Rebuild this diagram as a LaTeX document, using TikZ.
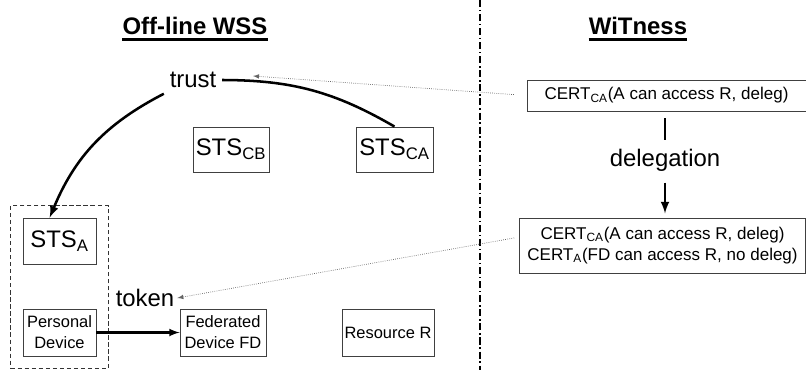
\documentclass[tikz,border=0pt]{standalone}
\usepackage{fontspec}
\setmainfont{Liberation Sans}
\usetikzlibrary{arrows,positioning,fit}

\tikzset{
  big/.style={font=\fontsize{17}{20}\selectfont},
  small/.style={font=\fontsize{11.7}{15}\selectfont},
  certfont/.style={font=\fontsize{12.1}{15}\selectfont},
  title/.style={font=\fontsize{17}{20}\selectfont\bfseries, inner sep=0pt},
  box/.style={draw=black!75, line width=0.6pt, inner sep=1pt, align=center},
  group/.style={draw=black!80, line width=0.6pt, dash pattern=on 3pt off 2pt, inner sep=8.5pt},
  flow/.style={-latex, line width=1.8pt},
  hint/.style={-latex, densely dotted, black!60, line width=0.5pt},
}

\begin{document}
\begin{tikzpicture}[x=0.025cm, y=-0.025cm]
\useasboundingbox (0,0) rectangle (806,370);

\node[title] (wss) at (195,26) {Off-line WSS};
\node[title] (wit) at (638,26) {WiTness};
\draw[line width=1.7pt] ([yshift=-3.5pt]wss.base west) -- ([yshift=-3.5pt]wss.base east);
\draw[line width=1.7pt] ([yshift=-3.5pt]wit.base west) -- ([yshift=-3.5pt]wit.base east);
\draw[line width=0.9pt, dash pattern=on 5pt off 2pt on 1pt off 2pt] (480,0) -- (480,370);

\node[big, inner sep=4pt] (trust) at (193,80) {trust};
\coordinate (trusthint) at (253,76);
\node[box, big, minimum width=1.9cm, minimum height=1.125cm] (stsCB) at (231,149.5) {STS\textsubscript{CB}};
\node[box, big, minimum width=1.925cm, minimum height=1.125cm] (stsCA) at (394.5,149.5) {STS\textsubscript{CA}};
\node[box, big, minimum width=1.825cm, minimum height=1.15cm] (stsA) at (59.5,241) {STS\textsubscript{A}};
\node[box, small, minimum width=1.825cm, minimum height=1.175cm] (pd) at (59.5,332.5) {Personal\\Device};
\node[group, fit=(stsA)(pd)] (owner) {};
\node[box, small, minimum width=2.15cm, minimum height=1.175cm] (fd) at (223,332.5) {Federated\\Device FD};
\node[box, small, minimum width=2.3cm, minimum height=1.175cm] (res) at (388,332.5) {Resource R};
\node[big, inner sep=2pt] (token) at (145,298) {token};

\node[box, certfont, minimum width=6.975cm, minimum height=0.775cm] (cert1) at (666.5,95.5) {CERT\textsubscript{CA}(A can access R, deleg)};
\node[big, inner sep=2pt] (deleg) at (665,160) {delegation};
\node[box, certfont, minimum width=7.15cm, minimum height=1.375cm] (cert2) at (662.5,245.5) {CERT\textsubscript{CA}(A can access R, deleg)\\CERT\textsubscript{A}(FD can access R, no deleg)};

\draw[line width=1.8pt] (stsCA.north) to[bend right=15] (trust.east);
\draw[flow] (trust.south west) to[bend right=20] ([xshift=-7pt]stsA.north);
\draw[flow, line width=1.5pt] (pd) -- (fd);
\draw[line width=1.8pt, shorten <=5pt, shorten >=4pt] (deleg.north |- cert1.south) -- (deleg.north);
\draw[flow, shorten <=6pt, shorten >=3pt] (deleg.south) -- (deleg.south |- cert2.north);
\draw[hint, shorten <=9pt] (cert1.west) -- (trusthint);
\draw[hint, shorten <=3.5pt] ([yshift=6pt]cert2.west) -- (token.east);
\end{tikzpicture}
\end{document}
